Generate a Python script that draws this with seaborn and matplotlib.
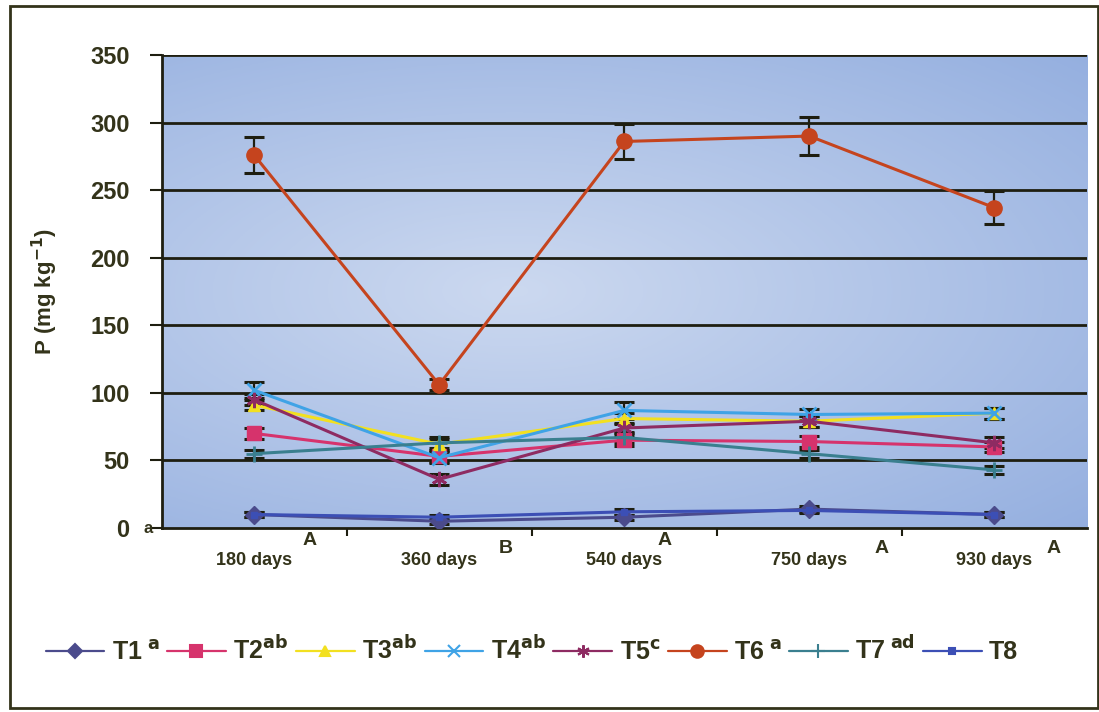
import numpy as np
import pandas as pd
import matplotlib
matplotlib.use("Agg")
import matplotlib.pyplot as plt
import seaborn as sns
from matplotlib.patches import Rectangle
from matplotlib.lines import Line2D

# ---- data ----
periods = ["180 days", "360 days", "540 days", "750 days", "930 days"]
period_letters = ["A", "B", "A", "A", "A"]
treatments = ["T1", "T2", "T3", "T4", "T5", "T6", "T7", "T8"]
treat_letters = [" a", "ab", "ab", "ab", "c", " a", " ad", ""]

t1 = [10, 5, 8, 14, 10]
t2 = [70, 53, 65, 64, 60]
t3 = [91, 62, 81, 79, 85]
t4 = [102, 52, 87, 84, 85]
t5 = [95, 36, 74, 79, 63]
t6 = [276, 106, 286, 290, 237]
t7 = [55, 63, 67, 55, 43]
t8 = [10, 8, 12, 13, 10]

e1 = [2, 2, 2, 2, 2]
e2 = [4, 4, 4, 4, 4]
e3 = [4, 4, 4, 4, 4]
e4 = [6, 4, 6, 4, 4]
e5 = [4, 4, 4, 4, 4]
e6 = [13, 4, 13, 14, 12]
e7 = [3, 4, 4, 3, 3]
e8 = [2, 2, 2, 2, 2]

values = [t1, t2, t3, t4, t5, t6, t7, t8]
errors = [e1, e2, e3, e4, e5, e6, e7, e8]

colors = ["#4b4b8c", "#d6336c", "#f2e020", "#3fa3e6", "#8e2b62", "#c5441e", "#3a7f8f", "#3c4fb5"]
markers = ["D", "s", "^", "x", (6, 2, 0), "o", "+", "s"]
msizes = [9, 10, 9, 10, 11, 11, 12, 4]

rows = []
for t, v in zip(treatments, values):
    for i, p in enumerate(periods):
        rows.append({"treatment": t, "pos": i, "P": v[i]})
df = pd.DataFrame(rows)

sns.set_theme(style="white")
plt.rcParams["font.family"] = ["Liberation Sans", "DejaVu Sans"]
txt = "#33331a"

fig = plt.figure(figsize=(10.99, 7.12), dpi=100)
fig.patch.set_facecolor("white")
ax = fig.add_axes([0.147, 0.2584, 0.842, 0.6644])

# gradient background
ny, nx = 200, 400
yy, xx = np.mgrid[0:1:ny * 1j, 0:1:nx * 1j]
r = np.sqrt(((xx - 0.38) / 0.95) ** 2 + ((yy - 0.5) / 0.8) ** 2)
r = np.clip(r, 0, 1)
c_in = np.array([0.80, 0.85, 0.94])
c_out = np.array([0.56, 0.67, 0.87])
img = c_in[None, None, :] * (1 - r[..., None]) + c_out[None, None, :] * r[..., None]
ax.imshow(img, extent=[-0.5, 4.5, 0, 350], aspect="auto", origin="lower", zorder=0)

ax.set_xlim(-0.5, 4.5)
ax.set_ylim(0, 350)

for yv in range(50, 351, 50):
    ax.axhline(yv, color="#1e1e10", lw=2.0, zorder=1)

for k, t in enumerate(treatments):
    sub = df[df["treatment"] == t]
    ax.errorbar(sub["pos"], sub["P"], yerr=errors[k], fmt="none", ecolor="#1e1e10",
                elinewidth=1.6, capsize=7, capthick=2.2, zorder=3)
    sns.lineplot(data=sub, x="pos", y="P", ax=ax, color=colors[k], lw=2.2,
                 marker=markers[k], markersize=msizes[k], markeredgecolor=colors[k],
                 markeredgewidth=2 if markers[k] in ("x", "+") or isinstance(markers[k], tuple) else 1,
                 zorder=4, label=t, legend=False)

ax.set_xticks([0.5, 1.5, 2.5, 3.5])
ax.set_xticklabels([])
ax.tick_params(axis="x", direction="out", length=6, width=1.5, color="#1e1e10", bottom=True)
ax.set_yticks(range(0, 351, 50))
ax.set_yticklabels([str(v) for v in range(0, 351, 50)], fontsize=17, fontweight="bold", color=txt)
ax.tick_params(axis="y", direction="out", length=9, width=1.5, color="#1e1e10", left=True, pad=14)

for i, p in enumerate(periods):
    ax.text(i, -24, p, ha="center", va="center", fontsize=13, fontweight="bold", color=txt)
offs = [0.30, 0.36, 0.22, 0.39, 0.32]
ys = [-9, -15, -9, -15, -15]
for i, l in enumerate(period_letters):
    ax.text(i + offs[i], ys[i], l, ha="center", va="center", fontsize=14, fontweight="bold", color=txt)
ax.text(-0.57, 0, "a", ha="center", va="center", fontsize=12, fontweight="bold", color=txt)

ax.set_xlabel("")
ax.set_ylabel(r"P (mg kg$^{\mathbf{-1}}$)", fontsize=16, fontweight="bold", color=txt, labelpad=22)

for s in ["top", "right"]:
    ax.spines[s].set_visible(False)
for s in ["left", "bottom"]:
    ax.spines[s].set_color("#1e1e10")
    ax.spines[s].set_linewidth(2)

# legend
handles = []
labels = []
for k, t in enumerate(treatments):
    handles.append(Line2D([0], [0], color=colors[k], lw=1.6, marker=markers[k],
                          markersize=max(msizes[k] - 2, 4), markeredgecolor=colors[k],
                          markeredgewidth=1.5))
    sup = treat_letters[k].strip()
    if sup:
        if treat_letters[k].startswith(" "):
            labels.append(t + r"$^{\ \mathbf{" + sup + "}}$")
        else:
            labels.append(t + r"$^{\mathbf{" + sup + "}}$")
    else:
        labels.append(t)
leg = fig.legend(handles, labels, loc="center", bbox_to_anchor=(0.484, 0.087), ncol=8,
                 frameon=False, handlelength=2.35, handletextpad=0.3, columnspacing=0.3,
                 prop={"weight": "bold", "size": 18})
for tx in leg.get_texts():
    tx.set_color(txt)

fig.add_artist(Rectangle((0.009, 0.006), 0.99, 0.986, transform=fig.transFigure,
                         fill=False, edgecolor="#33331a", lw=2))

fig.savefig("out.png", dpi=100)
